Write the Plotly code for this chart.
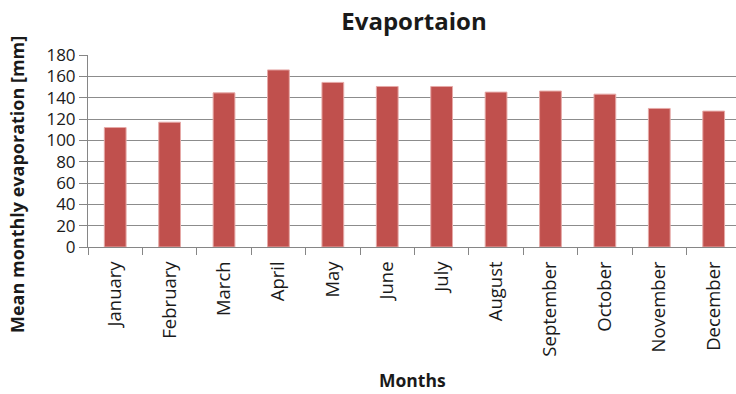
import plotly.graph_objects as go

months = ["January", "February", "March", "April", "May", "June", "July",
          "August", "September", "October", "November", "December"]
evaporation = [112, 117, 144.5, 166, 154.3, 150.5, 150.5, 145.2, 146.2, 143.3, 129.9, 127.4]
y_ticks = [0, 20, 40, 60, 80, 100, 120, 140, 160, 180]

FONT = "Open Sans"
TXT = "#1a1a1a"

fig = go.Figure(go.Bar(
    x=months, y=evaporation, width=0.4,
    marker=dict(color="#C0504D", line=dict(color="#E6A9A7", width=1)),
))

fig.update_layout(
    width=736, height=394,
    margin=dict(l=88, r=0, t=55, b=147),
    plot_bgcolor="white", paper_bgcolor="white",
    showlegend=False,
    title=dict(text="<b>Evaportaion</b>", x=414/736, xanchor="center",
               y=1 - 22/394, yanchor="middle",
               font=dict(family=FONT, size=24, color=TXT)),
    font=dict(family=FONT, color=TXT),
    annotations=[
        dict(text="<b>Months</b>", xref="paper", yref="paper",
             x=(412 - 88) / 648, y=-(380 - 247) / 192, xanchor="center", yanchor="middle",
             showarrow=False, font=dict(size=17.5, color=TXT)),
        dict(text="<b>Mean monthly evaporation [mm]</b>", xref="paper", yref="paper",
             x=-(88 - 17) / 648, y=(247 - 185) / 192, xanchor="center", yanchor="middle",
             textangle=-90, showarrow=False, font=dict(size=18, color=TXT)),
    ],
)

fig.update_xaxes(
    range=[-0.5, 11.41],
    tickangle=-90, tickfont=dict(size=18.5, color=TXT),
    ticks="outside", ticklen=7, tickcolor="#868686", tickson="boundaries",
    ticklabelstandoff=6,
    showline=True, linecolor="#868686", linewidth=1,
    showgrid=False,
)

fig.update_yaxes(
    range=[0, 180], tickvals=y_ticks,
    tickfont=dict(size=17, color=TXT),
    ticks="outside", ticklen=8, tickcolor="#868686",
    showline=True, linecolor="#868686", linewidth=1,
    showgrid=True, gridcolor="#8c8c8c", gridwidth=1,
    zeroline=False,
)

fig.write_html("out.html")
